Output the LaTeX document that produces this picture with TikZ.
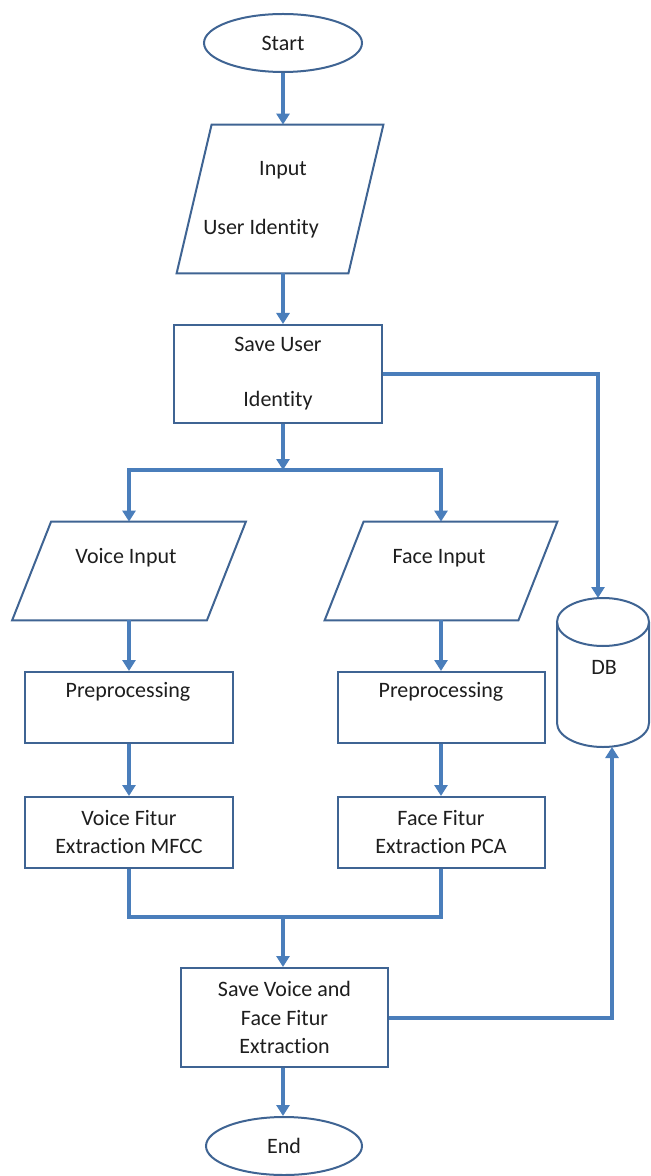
\documentclass[tikz,border=0pt]{standalone}
\usepackage{fontspec}
\setmainfont{Carlito}[Ligatures=NoCommon]
\usetikzlibrary{arrows.meta,shapes.geometric,calc}
\definecolor{lineblue}{HTML}{4A7EBB}
\definecolor{shapeblue}{HTML}{3F6493}
\definecolor{txt}{HTML}{1E1E1E}
\begin{document}
\begin{tikzpicture}[x=0.5pt,y=-0.5pt,
  font=\fontsize{11}{14}\selectfont, text=txt,
  conn/.style={draw=lineblue,line width=2pt,-{Triangle[length=5.5pt,width=6.5pt]}},
  plainconn/.style={draw=lineblue,line width=2pt},
  outline/.style={draw=shapeblue,line width=1pt},
  term/.style={ellipse,outline,fill=white,minimum width=79pt,minimum height=29pt,inner sep=0pt},
  procbox/.style={rectangle,outline,fill=white,inner sep=0pt,align=center},
  holder/.style={rectangle,inner sep=0pt,draw=none},
  lbl/.style={inner sep=0pt}]
\fill[white] (0,0) rectangle (651,1176);
\useasboundingbox (0,0) rectangle (651,1176);

% ---- main column ----
\node[term] (start) at (283,43) {Start};

\node[holder,minimum width=103pt,minimum height=74pt] (inp) at (280,199) {};
\draw[outline] (inp.south west) -- ($(inp.south east)+(-35,0)$) -- (inp.north east) -- ($(inp.north west)+(35,0)$) -- cycle;
\node[lbl] (in1) at (283,170) {Input};
\node[lbl] (in2) at (261,229) {User Identity};

\node[procbox,minimum width=104pt,minimum height=49pt,font=\fontsize{11}{27.5}\selectfont] (saveu) at (278,374) {Save User\\Identity};

\coordinate (split) at (283,470);

% ---- left column ----
\node[holder,minimum width=116.5pt,minimum height=49pt] (vin) at (129,571) {};
\draw[outline] (vin.south west) -- ($(vin.south east)+(-39,0)$) -- (vin.north east) -- ($(vin.north west)+(39,0)$) -- cycle;
\node[lbl] (vintxt) at (126,558) {Voice Input};

\node[procbox,minimum width=104pt,minimum height=35.5pt] (vpre) at (129,707.5) {};
\node[lbl] (vpretxt) at (128,692) {Preprocessing};

\node[procbox,minimum width=104pt,minimum height=35.5pt] (vfit) at (129,832.5) {Voice Fitur\\Extraction MFCC};

% ---- right column ----
\node[holder,minimum width=116pt,minimum height=49pt] (fin) at (441,571) {};
\draw[outline] (fin.south west) -- ($(fin.south east)+(-39,0)$) -- (fin.north east) -- ($(fin.north west)+(39,0)$) -- cycle;
\node[lbl] (fintxt) at (439,558) {Face Input};

\node[procbox,minimum width=103.5pt,minimum height=35.5pt] (fpre) at (441,707.5) {};
\node[lbl] (fpretxt) at (441,692) {Preprocessing};

\node[procbox,minimum width=103.5pt,minimum height=35.5pt] (ffit) at (441,832.5) {Face Fitur\\Extraction PCA};

% ---- merge / save / end ----
\coordinate (merge) at (283,917);
\node[procbox,minimum width=103.5pt,minimum height=49.5pt,font=\fontsize{11}{14.25}\selectfont] (savev) at (284.5,1017.5) {Save Voice and\\Face Fitur\\Extraction};
\node[term,minimum width=78pt] (end) at (284,1146) {End};

% ---- database ----
\node[holder,minimum width=46pt,minimum height=74.5pt] (db) at (603,672.5) {};
\draw[outline,fill=white] (557,622) -- (557,723) arc[start angle=180,end angle=0,x radius=46,y radius=24] -- (649,622);
\draw[outline] (603,622) ellipse [x radius=46, y radius=24];
\node[lbl] (dbtxt) at (604,667) {DB};
\coordinate (dbtop) at (598,598);
\coordinate (dbbot) at (612,747);

% ---- connectors ----
\draw[conn] (start.south) -- (start.south |- inp.north);
\draw[conn] (start.south |- inp.south) -- (start.south |- saveu.north);
\draw[conn] (start.south |- saveu.south) -- (split);
\draw[conn] (split) -| (vin.north);
\draw[conn] (split) -| (fin.north);
\draw[conn] (saveu.east) -| (dbtop);
\draw[conn] (vin.south) -- (vpre.north);
\draw[conn] (vpre.south) -- (vfit.north);
\draw[conn] (fin.south) -- (fpre.north);
\draw[conn] (fpre.south) -- (ffit.north);
\draw[plainconn] (vfit.south) |- (merge);
\draw[plainconn] (ffit.south) |- (merge);
\draw[conn] (merge) -- (merge |- savev.north);
\draw[conn] (savev.east) -| (dbbot);
\draw[conn] (merge |- savev.south) -- (merge |- end.north);
\end{tikzpicture}
\end{document}
